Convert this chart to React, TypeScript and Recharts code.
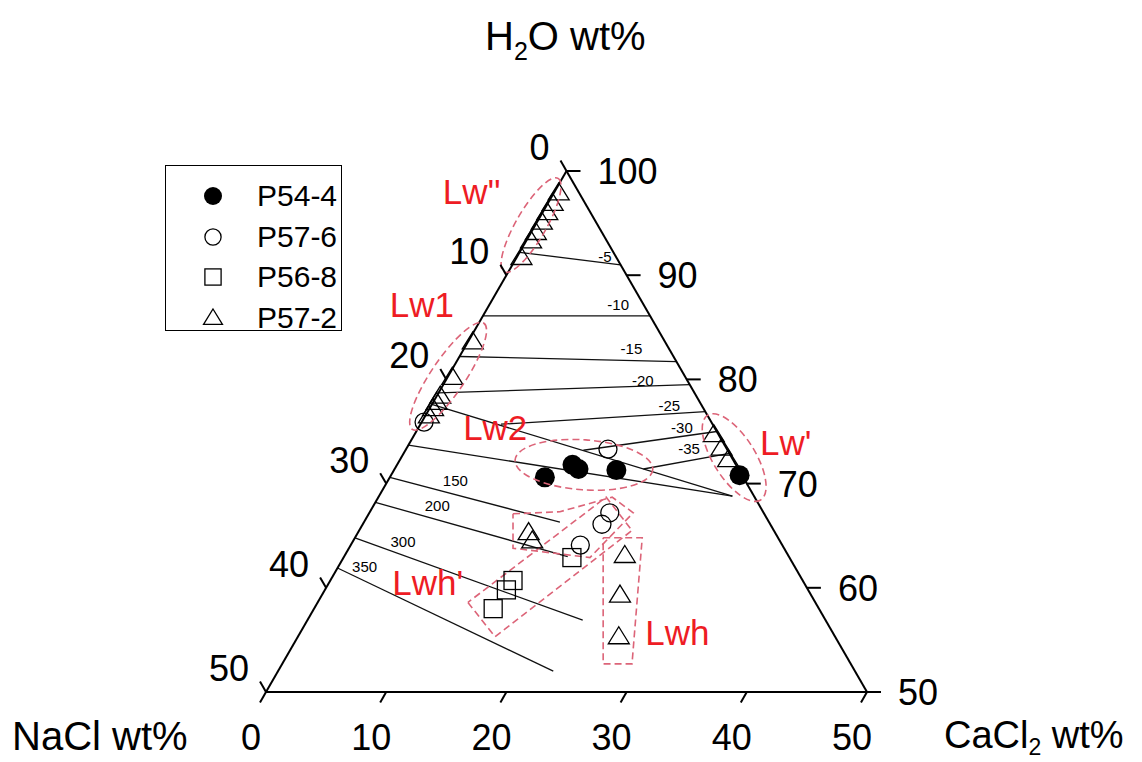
import React from 'react';
import { ScatterChart, Scatter, XAxis, YAxis, ReferenceDot, Legend } from 'recharts';

const W = 1142;
const H = 762;
const FONT = '"Liberation Sans", Arial, sans-serif';
const RED = '#ee1c24';
const PINK = '#dc6478';

// sample compositions: [NaCl wt%, CaCl2 wt%] (H2O = rest)
const p54_4 = [[16.5, 12.9], [13.6, 14.6], [13.3, 15.3], [10.2, 18.5], [0.2, 29.0]];
const p57_6 = [[9.9, 16.8], [23.9, 0.2], [12.8, 20.0], [14.0, 19.9], [16.8, 19.1]];
const p56_8 = [[18.1, 19.0], [24.1, 15.2], [25.1, 15.1], [27.1, 14.9]];
const p57_2 = [
  [1.7, 0.4], [2.7, 0.4], [3.6, 0.4], [4.5, 0.4], [5.5, 0.4], [6.3, 0.4], [7.9, 0.4],
  [16.0, 0.4], [19.4, 0.4], [21.3, 0.3], [21.9, 0.3], [22.5, 0.3], [23.2, 0.3],
  [0.4, 24.9], [0.4, 26.2], [0.4, 27.3],
  [20.5, 14.2], [20.6, 14.9],
  [13.6, 23.3], [15.9, 24.8], [18.0, 26.7],
];

// isotherms (ice field: °C, halite field: °C), endpoints and label spot as [NaCl, CaCl2]
const isotherms = [
  { label: '-5', from: [7.8, 0], to: [0, 9.0], at: [0.9, 7.3] },
  { label: '-10', from: [13.9, 0], to: [0, 13.9], at: [2.1, 10.7] },
  { label: '-15', from: [17.8, 0], to: [0, 18.3], at: [3.1, 13.9] },
  { label: '-20', from: [21.3, 0], to: [0, 20.5], at: [3.7, 16.4] },
  { label: '-25', from: [17.6, 6.7], to: [0, 23.1], at: [2.7, 19.8] },
  { label: '-30', from: [12.0, 14.8], to: [0, 25.0], at: [2.7, 21.9] },
  { label: '-35', from: [7.9, 20.7], to: [0, 27.1], at: [3.1, 23.5] },
  { label: '150', from: [29.4, 0], to: [17.4, 16.3], at: [24.1, 5.6] },
  { label: '200', from: [31.8, 0], to: [18.4, 18.6], at: [26.8, 5.3] },
  { label: '300', from: [35.2, 0], to: [20.2, 22.9], at: [31.4, 4.2] },
  { label: '350', from: [38.1, 0], to: [25.1, 22.9], at: [35.8, 2.2] },
];
const cotectics = [
  { from: [22.4, 0], to: [1.8, 29.4] },
  { from: [26.3, 0], to: [1.8, 29.4] },
];

const apex = [0, 0];
const naclCorner = [50, 0];
const caclCorner = [0, 50];

const caclTicks = [0, 10, 20, 30, 40, 50];
const naclTicks = [0, 10, 20, 30, 40, 50];
const h2oTicks = [100, 90, 80, 70, 60, 50];

// group outlines, in plot coordinates (x = CaCl2 - NaCl, y = CaCl2 + NaCl)
const ellipses = [
  { x: -5.9, y: 5.2, rx: 54, ry: 15, angle: -60 },
  { x: -19.7, y: 19.7, rx: 64, ry: 17, angle: -56 },
  { x: 2.9, y: 28.2, rx: 69, ry: 25, angle: 4 },
  { x: 27.9, y: 27.5, rx: 50, ry: 21, angle: 58 },
];
const outlines = [
  [[-8.9, 32.9], [-1.1, 32.7], [7.6, 31.3], [11.1, 32.8], [3.9, 37.1], [-8.9, 36.2]],
  [[-16.4, 41.4], [-11.9, 44.7], [10.9, 34.5], [6.6, 31.3]],
  [[6.1, 35.2], [12.6, 35.2], [10.9, 47.3], [6.1, 47.3]],
];
const groupLabels = [
  { text: "Lw''", x: -20.6, y: 3.2 },
  { text: 'Lw1', x: -29.4, y: 14.0 },
  { text: 'Lw2', x: -17.2, y: 25.8 },
  { text: "Lw'", x: 32.2, y: 27.3 },
  { text: "Lwh'", x: -29.0, y: 40.7 },
  { text: 'Lwh', x: 13.1, y: 45.5 },
];

const legendItems = [
  { name: 'P54-4', kind: 'filled' },
  { name: 'P57-6', kind: 'open' },
  { name: 'P56-8', kind: 'square' },
  { name: 'P57-2', kind: 'triangle' },
];

const toXY = (p: number[]) => ({ x: p[1] - p[0], y: p[1] + p[0] });

function Marker({ kind, cx, cy, k = 1 }: { kind: string; cx: number; cy: number; k?: number }) {
  const s = { stroke: '#000', strokeWidth: 1.3, fill: 'none' };
  if (kind === 'filled') return <circle cx={cx} cy={cy} r={10 * k} fill="#000" />;
  if (kind === 'open') return <circle cx={cx} cy={cy} r={9 * k} {...s} />;
  if (kind === 'square') {
    const h = 9 * k;
    return <rect x={cx - h} y={cy - h} width={2 * h} height={2 * h} {...s} />;
  }
  return (
    <polygon
      points={`${cx},${cy - 10 * k} ${cx + 10.5 * k},${cy + 7 * k} ${cx - 10.5 * k},${cy + 7 * k}`}
      {...s}
    />
  );
}

const LegendBox = () => (
  <div
    style={{
      position: 'relative',
      width: 177,
      height: 166,
      boxSizing: 'border-box',
      border: '1.5px solid #000',
      background: '#fff',
      fontFamily: FONT,
    }}>
    {legendItems.map((it, i) => (
      <div key={it.name} style={{ position: 'absolute', left: 0, top: 10 + i * 40.5, height: 40, width: 174 }}>
        <svg width={60} height={40} style={{ position: 'absolute', left: 17, top: 0 }}>
          <Marker kind={it.kind} cx={30} cy={20} k={0.9} />
        </svg>
        <span style={{ position: 'absolute', left: 91, top: 3, fontSize: 30, lineHeight: '34px', color: '#000' }}>
          {it.name}
        </span>
      </div>
    ))}
  </div>
);

const seg = (a: number[], b: number[]) => [toXY(a), toXY(b)];
const blank = () => <g />;

export default function App() {
  const edges = [seg(apex, naclCorner), seg(naclCorner, caclCorner), seg(caclCorner, apex)];
  const tickText = { fontFamily: FONT, fontSize: 36, fill: '#000' };

  return (
    <div style={{ position: 'absolute', left: 0, top: 0, width: W, height: H, background: '#fff' }}>
      <ScatterChart width={W} height={H} margin={{ top: 171, right: 275, bottom: 70, left: 266 }}>
        <XAxis type="number" dataKey="x" domain={[-50, 50]} hide />
        <YAxis type="number" dataKey="y" domain={[0, 50]} reversed hide />

        {cotectics.map((c, i) => (
          <Scatter key={`c${i}`} data={seg(c.from, c.to)} line={{ stroke: '#111', strokeWidth: 1.3 }}
            shape={blank} isAnimationActive={false} legendType="none" />
        ))}
        {isotherms.map((t) => (
          <Scatter key={`t${t.label}`} data={seg(t.from, t.to)} line={{ stroke: '#111', strokeWidth: 1.3 }}
            shape={blank} isAnimationActive={false} legendType="none" />
        ))}
        {outlines.map((o, i) => (
          <Scatter key={`o${i}`} data={[...o, o[0]].map(([x, y]) => ({ x, y }))}
            line={{ stroke: PINK, strokeWidth: 1.6, strokeDasharray: '7 4' }}
            shape={blank} isAnimationActive={false} legendType="none" />
        ))}
        {edges.map((e, i) => (
          <Scatter key={`e${i}`} data={e} line={{ stroke: '#000', strokeWidth: 2 }}
            shape={blank} isAnimationActive={false} legendType="none" />
        ))}

        <Scatter name="P54-4" data={p54_4.map(toXY)} isAnimationActive={false}
          shape={(p: any) => <Marker kind="filled" cx={p.cx} cy={p.cy} />} />
        <Scatter name="P57-6" data={p57_6.map(toXY)} isAnimationActive={false}
          shape={(p: any) => <Marker kind="open" cx={p.cx} cy={p.cy} />} />
        <Scatter name="P56-8" data={p56_8.map(toXY)} isAnimationActive={false}
          shape={(p: any) => <Marker kind="square" cx={p.cx} cy={p.cy} />} />
        <Scatter name="P57-2" data={p57_2.map(toXY)} isAnimationActive={false}
          shape={(p: any) => <Marker kind="triangle" cx={p.cx} cy={p.cy} />} />

        {ellipses.map((e, i) => (
          <ReferenceDot key={`el${i}`} x={e.x} y={e.y} r={0} ifOverflow="visible"
            shape={(p: any) => (
              <ellipse cx={p.cx} cy={p.cy} rx={e.rx} ry={e.ry}
                transform={`rotate(${e.angle} ${p.cx} ${p.cy})`}
                fill="none" stroke={PINK} strokeWidth={1.6} strokeDasharray="7 4" />
            )} />
        ))}

        {isotherms.map((t) => {
          const q = toXY(t.at);
          return (
            <ReferenceDot key={`tl${t.label}`} x={q.x} y={q.y} r={0} ifOverflow="visible"
              shape={(p: any) => (
                <text x={p.cx} y={p.cy} textAnchor="middle" dominantBaseline="central"
                  fontFamily={FONT} fontSize={15} fill="#000">{t.label}</text>
              )} />
          );
        })}

        {groupLabels.map((g) => (
          <ReferenceDot key={`g${g.text}`} x={g.x} y={g.y} r={0} ifOverflow="visible"
            shape={(p: any) => (
              <text x={p.cx} y={p.cy} fontFamily={FONT} fontSize={35} fill={RED}>{g.text}</text>
            )} />
        ))}

        {caclTicks.map((c) => {
          const q = toXY([50 - c, c]);
          return (
            <ReferenceDot key={`b${c}`} x={q.x} y={q.y} r={0} ifOverflow="visible"
              shape={(p: any) => (
                <g>
                  <line x1={p.cx} y1={p.cy} x2={p.cx - 6} y2={p.cy + 10.4} stroke="#000" strokeWidth={2} />
                  <text x={p.cx - 15} y={p.cy + 58} textAnchor="middle" {...tickText}>{c}</text>
                </g>
              )} />
          );
        })}
        {naclTicks.map((n) => {
          const q = toXY([n, 0]);
          return (
            <ReferenceDot key={`l${n}`} x={q.x} y={q.y} r={0} ifOverflow="visible"
              shape={(p: any) => (
                <g>
                  <line x1={p.cx} y1={p.cy} x2={p.cx - 6} y2={p.cy - 10.4} stroke="#000" strokeWidth={2} />
                  <text x={p.cx - 17} y={p.cy - 11} textAnchor="end" {...tickText}>{n}</text>
                </g>
              )} />
          );
        })}
        {h2oTicks.map((h) => {
          const q = toXY([0, 100 - h]);
          return (
            <ReferenceDot key={`r${h}`} x={q.x} y={q.y} r={0} ifOverflow="visible"
              shape={(p: any) => (
                <g>
                  <line x1={p.cx} y1={p.cy} x2={p.cx + 14} y2={p.cy} stroke="#000" strokeWidth={2} />
                  <text x={p.cx + 31} y={p.cy + 13} textAnchor="start" {...tickText}>{h}</text>
                </g>
              )} />
          );
        })}

        <Legend content={LegendBox} layout="vertical" align="center" verticalAlign="middle"
          wrapperStyle={{ left: 165, top: 165, width: 177, height: 166 }} />
      </ScatterChart>

      <svg width={W} height={H} style={{ position: 'absolute', left: 0, top: 0, pointerEvents: 'none' }}>
        <text x={485} y={50} fontFamily={FONT} fontSize={40} fill="#000">
          H<tspan fontSize={25} dy={10}>2</tspan><tspan dy={-10}>O wt%</tspan>
        </text>
        <text x={12} y={750} fontFamily={FONT} fontSize={40} fill="#000">NaCl wt%</text>
        <text x={944} y={748} fontFamily={FONT} fontSize={38} fill="#000">
          CaCl<tspan fontSize={23} dy={7}>2</tspan><tspan dy={-7}> wt%</tspan>
        </text>
      </svg>
    </div>
  );
}
